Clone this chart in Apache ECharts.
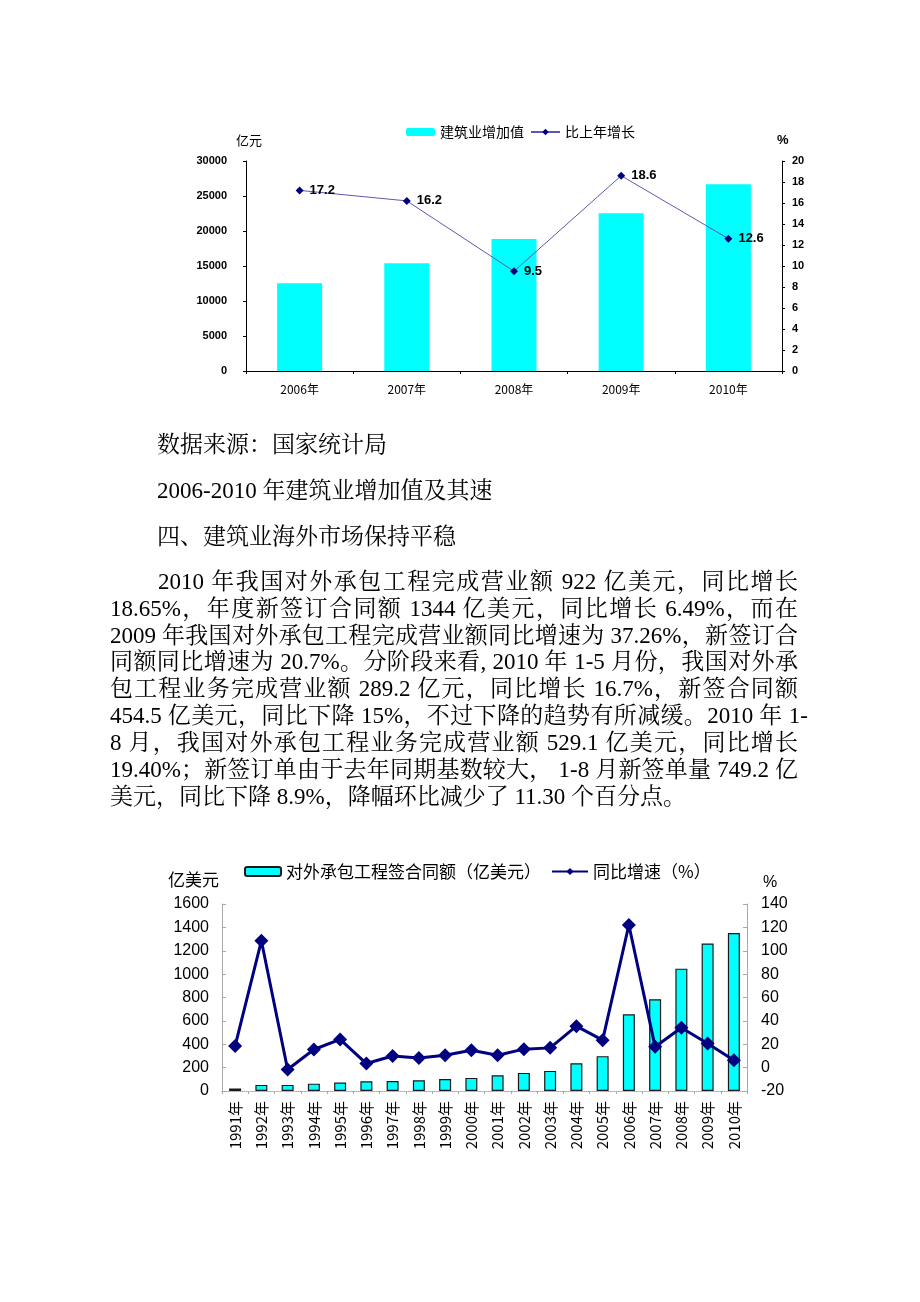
<!DOCTYPE html>
<html><head><meta charset="utf-8">
<script src="https://cdn.jsdelivr.net/npm/echarts@6/dist/echarts.min.js"></script>
<style>
html,body{margin:0;padding:0;background:#fff;}
#chart{position:absolute;left:0;top:0;width:920px;height:1302px;}
.t{position:absolute;font-family:"Liberation Serif","Noto Serif CJK SC","Noto Sans CJK SC",serif;font-size:23px;line-height:27px;height:27px;white-space:nowrap;color:#000;}
.j{text-align:justify;text-align-last:justify;}
</style></head>
<body>
<div id="chart"></div>
<div class="t" style="left:157px;top:431px;">数据来源：国家统计局</div>
<div class="t" style="left:157px;top:477px;">2006-2010 年建筑业增加值及其速</div>
<div class="t" style="left:157px;top:523px;">四、建筑业海外市场保持平稳</div>
<div class="t j" style="left:158px;top:568px;width:640px;">2010 年我国对外承包工程完成营业额 922 亿美元，同比增长</div>
<div class="t j" style="left:110px;top:595px;width:688px;">18.65%，年度新签订合同额 1344 亿美元，同比增长 6.49%，而在</div>
<div class="t j" style="left:110px;top:622px;width:688px;">2009 年我国对外承包工程完成营业额同比增速为 37.26%，新签订合</div>
<div class="t j" style="left:110px;top:648px;width:688px;">同额同比增速为 20.7%。分阶段来看, 2010 年 1-5 月份，我国对外承</div>
<div class="t j" style="left:110px;top:675px;width:688px;">包工程业务完成营业额 289.2 亿元，同比增长 16.7%，新签合同额</div>
<div class="t j" style="left:110px;top:702px;width:698px;">454.5 亿美元，同比下降 15%，不过下降的趋势有所减缓。2010 年 1-</div>
<div class="t j" style="left:110px;top:729px;width:688px;">8 月，我国对外承包工程业务完成营业额 529.1 亿美元，同比增长</div>
<div class="t j" style="left:110px;top:756px;width:688px;">19.40%；新签订单由于去年同期基数较大， 1-8 月新签单量 749.2 亿</div>
<div class="t" style="left:110px;top:783px;">美元，同比下降 8.9%，降幅环比减少了 11.30 个百分点。</div>
<script>
// Chart 1 data
const years1 = ['2006年','2007年','2008年','2009年','2010年'];
const addedValue1 = [12530, 15390, 18860, 22530, 26670];
const growth1 = [17.2, 16.2, 9.5, 18.6, 12.6];
// Chart 2 data
const years2 = ['1991年','1992年','1993年','1994年','1995年','1996年','1997年','1998年','1999年','2000年',
                '2001年','2002年','2003年','2004年','2005年','2006年','2007年','2008年','2009年','2010年'];
const contract2 = [22, 52, 52, 63, 72, 83, 85, 92, 103, 112, 135, 155, 172, 238, 298, 656, 785, 1047, 1262, 1351];
const growth2 = [18.6, 108.5, -1.6, 15.5, 24.1, 3.5, 10, 8.3, 10.6, 14.9, 10.6, 15.8, 16.9, 35.5, 23.5, 122, 17.8, 34.1, 20.7, 6.4];
const ticks1Left = {min:0, max:30000, interval:5000};
const ticks1Right = {min:0, max:20, interval:2};
const ticks2Left = {min:0, max:1600, interval:200};
const ticks2Right = {min:-20, max:140, interval:20};

const sans = 'Arial, "Liberation Sans", "Noto Sans CJK SC", sans-serif';
const cjk = '"Noto Sans CJK SC", Arial, sans-serif';
const chart = echarts.init(document.getElementById('chart'), null, {renderer:'canvas'});

const black = {lineStyle:{color:'#000', width:1}};
const gray = {lineStyle:{color:'#a8a8a8', width:1}};
const plain = v => String(v);

const option = {
  animation: false,
  textStyle: {fontFamily: sans},
  legend: [
    {data:['建筑业增加值','比上年增长'], left:401, top:120, itemWidth:29, itemHeight:8, itemGap:6,
     textStyle:{fontSize:14, color:'#000', fontFamily:cjk}},
    {data:['对外承包工程签合同额（亿美元）','同比增速（%）'], left:239, top:858, itemWidth:36, itemHeight:9, itemGap:10,
     textStyle:{fontSize:17, color:'#000', fontFamily:cjk}}
  ],
  graphic: [
    {type:'text', left:236, top:134, style:{text:'亿元', fill:'#000', font:'13px "Noto Sans CJK SC"'}},
    {type:'text', left:777, top:134, style:{text:'%', fill:'#000', font:'bold 13px Arial'}},
    {type:'text', left:168, top:871, style:{text:'亿美元', fill:'#000', font:'17px "Noto Sans CJK SC"'}},
    {type:'text', left:763, top:875, style:{text:'%', fill:'#000', font:'16px Arial'}}
  ],
  grid: [
    {left:246, top:161, width:536, height:210},
    {left:222, top:904, width:525, height:187}
  ],
  xAxis: [
    {type:'category', gridIndex:0, data:years1, boundaryGap:true,
     axisLine:black, axisTick:{show:true, length:3, lineStyle:{color:'#000'}},
     axisLabel:{fontSize:12, color:'#000', margin:12, fontFamily:cjk}},
    {type:'category', gridIndex:1, data:years2, boundaryGap:true,
     axisLine:{lineStyle:{color:'#a8a8a8', width:1, type:'dotted'}}, axisTick:{show:true, length:3, lineStyle:{color:'#a8a8a8'}},
     axisLabel:{fontSize:15, color:'#000', margin:10, rotate:90, interval:0, fontFamily:cjk}}
  ],
  yAxis: [
    Object.assign({type:'value', gridIndex:0, position:'left',
     axisLine:Object.assign({show:true}, black), axisTick:{show:true, length:3, lineStyle:{color:'#000'}},
     splitLine:{show:false},
     axisLabel:{fontSize:11, fontWeight:'bold', color:'#000', margin:19, formatter:plain}}, ticks1Left),
    Object.assign({type:'value', gridIndex:0, position:'right',
     axisLine:Object.assign({show:true}, black), axisTick:{show:true, length:3, lineStyle:{color:'#000'}},
     splitLine:{show:false},
     axisLabel:{fontSize:11, fontWeight:'bold', color:'#000', margin:10, formatter:plain}}, ticks1Right),
    Object.assign({type:'value', gridIndex:1, position:'left',
     axisLine:Object.assign({show:true}, gray), axisTick:{show:true, inside:true, length:4, lineStyle:{color:'#a8a8a8'}},
     splitLine:{show:false},
     axisLabel:{fontSize:16, color:'#000', margin:13, formatter:plain}}, ticks2Left),
    Object.assign({type:'value', gridIndex:1, position:'right',
     axisLine:Object.assign({show:true}, gray), axisTick:{show:true, inside:true, length:4, lineStyle:{color:'#a8a8a8'}},
     splitLine:{show:false},
     axisLabel:{fontSize:16, color:'#000', margin:14, formatter:plain}}, ticks2Right)
  ],
  series: [
    {name:'建筑业增加值', type:'bar', xAxisIndex:0, yAxisIndex:0, data:addedValue1, barWidth:45,
     itemStyle:{color:'#00FFFF'}},
    {name:'比上年增长', type:'line', xAxisIndex:0, yAxisIndex:1, data:growth1,
     symbol:'diamond', symbolSize:8, lineStyle:{color:'#5a5ab0', width:1}, itemStyle:{color:'#000080'},
     label:{show:true, position:'right', distance:6, fontSize:13, fontWeight:'bold', color:'#000', fontFamily:sans}},
    {name:'对外承包工程签合同额（亿美元）', type:'bar', xAxisIndex:1, yAxisIndex:2, data:contract2, barWidth:12,
     itemStyle:{color:'#00FFFF', borderColor:'#1a1a1a', borderWidth:1.2}},
    {name:'同比增速（%）', type:'line', xAxisIndex:1, yAxisIndex:3, data:growth2,
     symbol:'diamond', symbolSize:14, lineStyle:{color:'#000080', width:3}, itemStyle:{color:'#000080'}}
  ]
};
chart.setOption(option);
</script>
</body></html>
